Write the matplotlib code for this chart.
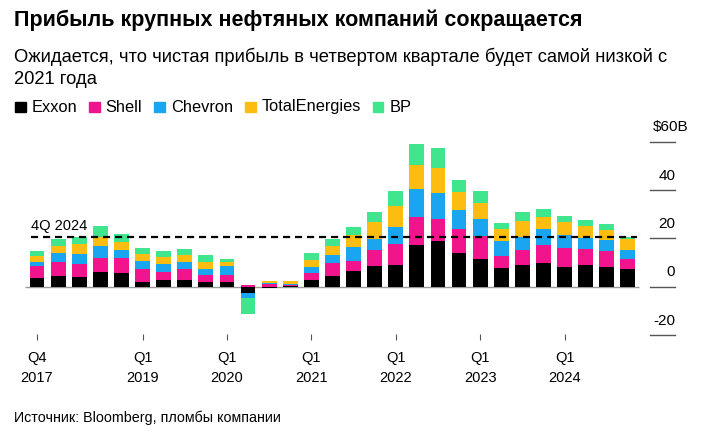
import numpy as np
import matplotlib.pyplot as plt

plt.rcParams['font.family'] = ['Liberation Sans', 'DejaVu Sans']

# ================= DATOS (млрд $) =================
quarters = ["Q4 2017",
            "Q1 2018", "Q2 2018", "Q3 2018", "Q4 2018",
            "Q1 2019", "Q2 2019", "Q3 2019", "Q4 2019",
            "Q1 2020", "Q2 2020", "Q3 2020", "Q4 2020",
            "Q1 2021", "Q2 2021", "Q3 2021", "Q4 2021",
            "Q1 2022", "Q2 2022", "Q3 2022", "Q4 2022",
            "Q1 2023", "Q2 2023", "Q3 2023", "Q4 2023",
            "Q1 2024", "Q2 2024", "Q3 2024", "Q4 2024"]
exxon = [3.5, 4.4, 3.9, 6.2, 5.8, 2.1, 2.8, 2.8, 1.8, 2.1, -2.8, -0.7, 0.2,
         2.6, 4.4, 6.5, 8.7, 8.9, 17.4, 18.8, 13.8, 11.6, 7.9, 9.0, 9.8,
         8.2, 9.1, 8.3, 7.2]
shell = [5.2, 5.7, 5.5, 5.8, 6.0, 5.4, 3.3, 4.7, 2.9, 2.7, 0.5, 1.0, 0.6,
         2.9, 5.5, 4.3, 6.5, 8.9, 11.6, 9.4, 10.0, 9.4, 4.8, 6.2, 7.3,
         7.7, 6.4, 6.4, 4.4]
chevron = [1.7, 3.7, 4.0, 4.9, 3.4, 3.1, 3.3, 2.7, 2.5, 3.9, -1.8, 0.4, 0.5,
           2.8, 3.2, 5.8, 4.7, 6.8, 11.3, 10.7, 8.0, 7.2, 6.1, 5.5, 6.7,
           5.4, 4.5, 4.6, 3.6]
total = [2.4, 3.1, 4.2, 3.6, 3.3, 2.9, 2.8, 2.9, 3.2, 1.7, 0.0, 0.9, 0.9,
         2.8, 3.8, 4.7, 7.0, 8.9, 10.0, 10.1, 7.5, 6.3, 5.0, 6.6, 5.2,
         5.5, 5.1, 4.2, 4.4]
bp = [2.1, 2.7, 3.1, 4.6, 3.3, 2.4, 2.7, 2.5, 2.6, 0.9, -6.8, 0.0, 0.0,
      2.9, 2.7, 3.3, 4.2, 6.3, 8.7, 8.3, 4.9, 5.1, 2.4, 3.6, 3.0,
      2.6, 2.5, 2.3, 1.1]

companies = ["Exxon", "Shell", "Chevron", "TotalEnergies", "BP"]
colores = ["#000000", "#f2148c", "#1aa5f0", "#fdbd10", "#3fe68e"]
ticks_x = ["Q4 2017", "Q1 2019", "Q1 2020", "Q1 2021", "Q1 2022", "Q1 2023", "Q1 2024"]
ticks_y = [60, 40, 20, 0, -20]

# ================= GRÁFICA =================
fig = plt.figure(figsize=(7.12, 4.36), dpi=100)
ax = fig.add_axes([25 / 712, 96 / 436, 655 / 712, 220 / 436])

x = np.arange(len(quarters))
pos_base = np.zeros(len(x))
neg_base = np.zeros(len(x))
for serie, color in zip([exxon, shell, chevron, total, bp], colores):
    v = np.array(serie)
    base = np.where(v >= 0, pos_base, neg_base)
    ax.bar(x, v, bottom=base, width=0.7, color=color, linewidth=0)
    pos_base += np.where(v >= 0, v, 0)
    neg_base += np.where(v < 0, v, 0)

ax.set_xlim(-0.57, 30.47)
ax.set_ylim(-22.07, 69.0)

# línea del cero
ax.hlines(0, -0.57, x[-1] + 0.55, color="#9a9a9a", lw=1.0, zorder=0)

# nivel 4Q 2024
ultimo = pos_base[-1]
ax.hlines(ultimo, -0.3, x[-1] + 0.45, color="black", lw=1.6,
          linestyles=(0, (3.2, 2.2)), zorder=3)
ax.text(-0.3, ultimo + 1.6, "4Q 2024", fontsize=10.5, ha="left", va="bottom")

# eje y a la derecha
for t in ticks_y:
    ax.plot([29.05, 30.24], [t, t], color="#555555", lw=1.0, clip_on=False)
    if t == 60:
        ax.text(30.85, t + 6.0, "$60B", fontsize=11, ha="right", va="center")
    else:
        ax.text(30.24, t + 6.0, str(t), fontsize=11, ha="right", va="center")

# eje x
ax.set_xticks([quarters.index(q) for q in ticks_x])
ax.set_xticklabels([q.replace(" ", "\n") for q in ticks_x], fontsize=10.5,
                   linespacing=1.5)
ax.tick_params(axis="x", direction="in", length=4, width=0.8, color="#555555", pad=8)
ax.tick_params(axis="y", left=False, labelleft=False)
for s in ax.spines.values():
    s.set_visible(False)

# títulos
fig.text(14 / 712, 1 - 20 / 436, "Прибыль крупных нефтяных компаний сокращается",
         fontsize=15.5, fontweight="bold", ha="left", va="center")
fig.text(14 / 712, 1 - 57 / 436, "Ожидается, что чистая прибыль в четвертом квартале будет самой низкой с",
         fontsize=13.2, ha="left", va="center")
fig.text(14 / 712, 1 - 80 / 436, "2021 года", fontsize=13.2, ha="left", va="center")

# leyenda manual
xl = 15
for nombre, color in zip(companies, colores):
    fig.patches.append(plt.Rectangle((xl / 712, 1 - 112.5 / 436), 10.5 / 712, 10.5 / 436,
                                     transform=fig.transFigure, color=color))
    t = fig.text((xl + 16.5) / 712, 1 - 107 / 436, nombre, fontsize=11.8, ha="left", va="center")
    fig.canvas.draw()
    bb = t.get_window_extent()
    xl = bb.x1 + 12

fig.text(14 / 712, 1 - 418 / 436, "Источник: Bloomberg, пломбы компании",
         fontsize=10.3, ha="left", va="center")

fig.savefig("out.png", dpi=100)
